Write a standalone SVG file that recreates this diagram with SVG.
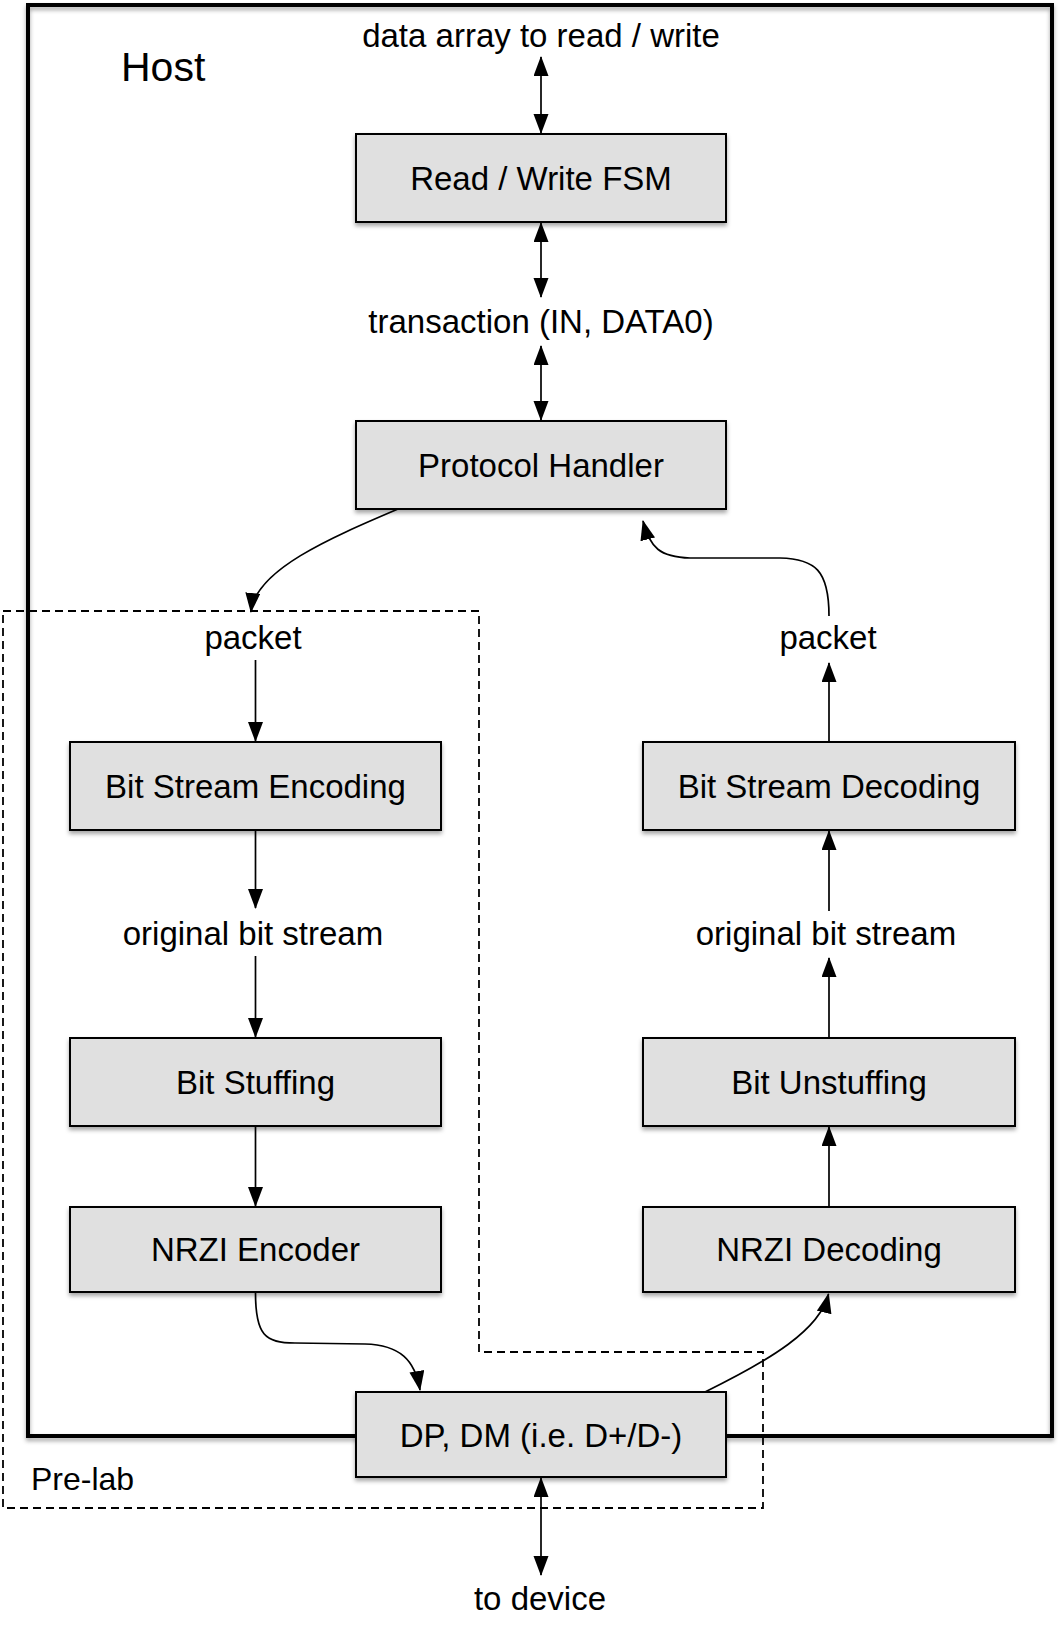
<svg xmlns="http://www.w3.org/2000/svg" width="1062" height="1633" viewBox="0 0 1062 1633">
<style>
.t{font-family:"Liberation Sans",Arial,sans-serif;font-size:33px;fill:#000;text-anchor:middle}
.box{fill:#e0e0e0;stroke:#000;stroke-width:2;filter:url(#sh)}
.c{fill:none;stroke:#000;stroke-width:1.7}
</style>
<defs>
<filter id="sh" x="-10%" y="-10%" width="120%" height="130%">
<feDropShadow dx="0" dy="3" stdDeviation="2" flood-color="#000" flood-opacity="0.35"/>
</filter>
<marker id="a" markerUnits="userSpaceOnUse" markerWidth="21" markerHeight="16" refX="19" refY="7.5" orient="auto-start-reverse" viewBox="0 0 21 16">
<path d="M0,0 L20,7.5 L0,15 Z" fill="#000"/>
</marker>
</defs>
<rect width="1062" height="1633" fill="#fff"/>
<g id="host">
<rect x="28" y="5" width="1024" height="1431" fill="none" stroke="#000" stroke-width="4" filter="url(#sh)"/>
<text class="t" x="121" y="81" style="font-size:41px;text-anchor:start">Host</text>
</g>
<g id="prelab">
<path d="M3,611 L479,611 L479,1352 L763,1352 L763,1508 L3,1508 Z" fill="none" stroke="#000" stroke-width="1.8" stroke-dasharray="8 5"/>
<text class="t" x="31" y="1490" style="text-anchor:start;font-size:32px">Pre-lab</text>
</g>
<g id="connectors">
<line class="c" x1="541" y1="57" x2="541" y2="133" marker-start="url(#a)" marker-end="url(#a)"/>
<line class="c" x1="541" y1="223" x2="541" y2="297" marker-start="url(#a)" marker-end="url(#a)"/>
<line class="c" x1="541" y1="346" x2="541" y2="420" marker-start="url(#a)" marker-end="url(#a)"/>
<path class="c" d="M398,509 C330,538 255,570 251,612" marker-end="url(#a)"/>
<line class="c" x1="255.5" y1="660" x2="255.5" y2="741" marker-end="url(#a)"/>
<line class="c" x1="255.5" y1="831" x2="255.5" y2="908" marker-end="url(#a)"/>
<line class="c" x1="255.5" y1="956" x2="255.5" y2="1037" marker-end="url(#a)"/>
<line class="c" x1="255.5" y1="1127" x2="255.5" y2="1206" marker-end="url(#a)"/>
<path class="c" d="M255.5,1293 C255.5,1335 265,1343 295,1343 L365,1344 C400,1345 415,1360 420,1390" marker-end="url(#a)"/>
<path class="c" d="M705,1392 C770,1360 820,1330 828.5,1294" marker-end="url(#a)"/>
<line class="c" x1="541" y1="1478" x2="541" y2="1575" marker-start="url(#a)" marker-end="url(#a)"/>
<line class="c" x1="829" y1="1207" x2="829" y2="1127" marker-end="url(#a)"/>
<line class="c" x1="829" y1="1038" x2="829" y2="958" marker-end="url(#a)"/>
<line class="c" x1="829" y1="911" x2="829" y2="831" marker-end="url(#a)"/>
<line class="c" x1="829" y1="742" x2="829" y2="663" marker-end="url(#a)"/>
<path class="c" d="M829,616 C829,570 815,559 780,558 L690,558 C660,557 650,548 643,521" marker-end="url(#a)"/>
</g>
<g id="labels">
<text class="t" x="541" y="47">data array to read / write</text>
<text class="t" x="541" y="333">transaction (IN, DATA0)</text>
<text class="t" x="253" y="649">packet</text>
<text class="t" x="828" y="649">packet</text>
<text class="t" x="253" y="945">original bit stream</text>
<text class="t" x="826" y="945">original bit stream</text>
<text class="t" x="540" y="1610">to device</text>
</g>
<g id="fsm"><rect class="box" x="356" y="134" width="370" height="88"/><text class="t" x="541" y="190">Read / Write FSM</text></g>
<g id="protocol"><rect class="box" x="356" y="421" width="370" height="88"/><text class="t" x="541" y="477">Protocol Handler</text></g>
<g id="bse"><rect class="box" x="70" y="742" width="371" height="88"/><text class="t" x="255.5" y="798">Bit Stream Encoding</text></g>
<g id="bsd"><rect class="box" x="643" y="742" width="372" height="88"/><text class="t" x="829" y="798">Bit Stream Decoding</text></g>
<g id="bstuff"><rect class="box" x="70" y="1038" width="371" height="88"/><text class="t" x="255.5" y="1094">Bit Stuffing</text></g>
<g id="bunstuff"><rect class="box" x="643" y="1038" width="372" height="88"/><text class="t" x="829" y="1094">Bit Unstuffing</text></g>
<g id="nrzie"><rect class="box" x="70" y="1207" width="371" height="85"/><text class="t" x="255.5" y="1261">NRZI Encoder</text></g>
<g id="nrzid"><rect class="box" x="643" y="1207" width="372" height="85"/><text class="t" x="829" y="1261">NRZI Decoding</text></g>
<g id="dp"><rect class="box" x="356" y="1392" width="370" height="85"/><text class="t" x="541" y="1447">DP, DM (i.e. D+/D-)</text></g>
</svg>
